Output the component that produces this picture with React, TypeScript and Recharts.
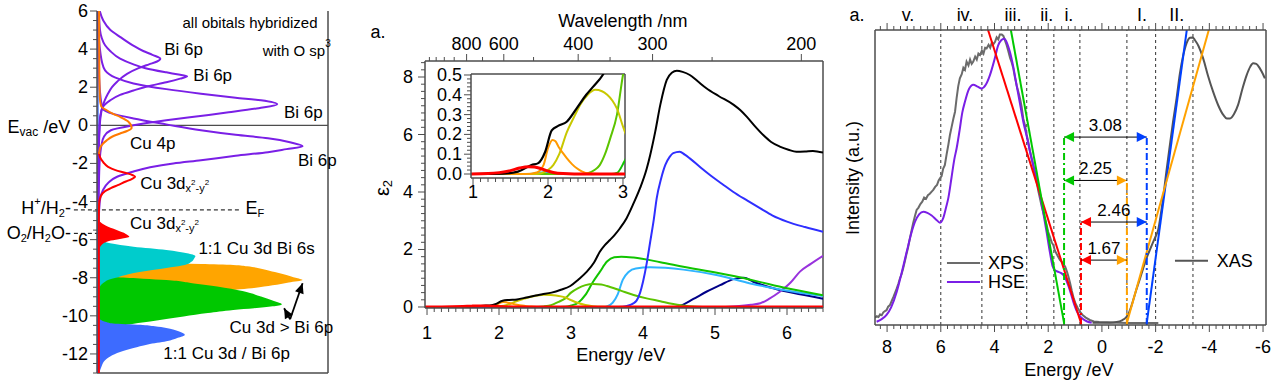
import React from "react";
import {
  ComposedChart,
  Line,
  Area,
  XAxis,
  YAxis,
  ReferenceLine,
  ReferenceDot,
} from "recharts";

const FONT = "Arial, 'Liberation Sans', Helvetica, sans-serif";
const AXIS = "#4d4d4d";

type Pt = [number, number];

function range(a: number, b: number, s: number): number[] {
  const out: number[] = [];
  for (let k = 0; a + k * s <= b + 1e-9; k++) out.push(+(a + k * s).toFixed(4));
  return out;
}

const toEV = (pts: Pt[]) => pts.map(([e, v]) => ({ e, v }));

// ---------------- left panel: orbital levels, [energy vs vacuum /eV, weight]
const p1Major = [6, 4, 2, 0, -2, -4, -6, -8, -10, -12];
const p1Ticks = range(-13, 6, 0.5);

const bi6pA: Pt[] = [[6, 1.2], [5.5, 2.7], [5, 5.8], [4.6, 10.5], [4.2, 15.5], [3.9, 20], [3.7, 24], [3.5, 27.4], [3.35, 26], [3.2, 22.5], [3.0, 18], [2.7, 13], [2.3, 8.8], [2.0, 6.5], [1.6, 4.5], [1.3, 3.3], [0.9, 2.2], [0.4, 1.5], [-0.5, 1.0], [-2, 0.7], [-4, 0.5]];
const bi6pB: Pt[] = [[6, 0.8], [5, 1.3], [4.6, 2], [4.2, 3.5], [3.9, 5.7], [3.5, 10], [3.2, 15.8], [3.0, 21], [2.78, 30], [2.65, 36], [2.57, 39], [2.45, 36], [2.26, 30], [2.05, 22], [1.83, 15.8], [1.6, 10], [1.31, 5.7], [0.96, 2.5], [0.5, 1.4], [-0.5, 0.9], [-2, 0.6], [-4, 0.5]];
const bi6pC: Pt[] = [[6, 0.6], [4.5, 0.9], [3.77, 1.5], [3.3, 2.2], [2.88, 3.5], [2.5, 8], [2.2, 15.8], [1.9, 30], [1.66, 45], [1.45, 60], [1.31, 71], [1.1, 78], [0.9, 70], [0.68, 57], [0.45, 42], [0.26, 30], [0, 15.8], [-0.26, 6], [-0.6, 3], [-1.0, 2], [-2, 1.1], [-4, 0.7]];
const bi6pD: Pt[] = [[6, 0.5], [3, 0.8], [1.5, 1.5], [0.87, 2.6], [0.6, 7], [0.36, 15.8], [0.05, 30], [-0.26, 45], [-0.5, 60], [-0.68, 74], [-0.9, 84], [-1.1, 89], [-1.25, 82], [-1.41, 74], [-1.6, 60], [-1.83, 45], [-2.0, 33], [-2.2, 23], [-2.45, 15], [-2.7, 8.7], [-3.0, 5], [-3.4, 2.6], [-4, 1.2], [-5, 0.8], [-13, 0.6]];
const cu4p: Pt[] = [[6, 0.9], [3, 1], [1.5, 1.2], [1.0, 1.8], [0.79, 4.2], [0.6, 7], [0.44, 10], [0.2, 13.5], [-0.14, 15], [-0.3, 13], [-0.43, 10], [-0.6, 6.5], [-0.79, 4.2], [-1.0, 2.3], [-1.2, 1.3], [-1.5, 0.9]];
const cu3dLine: Pt[] = [[-1.4, 0.8], [-1.67, 1.3], [-1.95, 2.8], [-2.18, 4.8], [-2.35, 8], [-2.5, 12.5], [-2.62, 15.5], [-2.7, 16.5], [-2.82, 15], [-2.95, 12.5], [-3.14, 9], [-3.3, 6], [-3.45, 3.5], [-3.75, 1.5], [-4.1, 0.9], [-5, 0.8], [-8, 0.8], [-13, 0.8]];
const cu3dFill: Pt[] = [[-4.9, 0.5], [-5.06, 1.3], [-5.25, 3.5], [-5.5, 8.5], [-5.7, 12.5], [-5.85, 14], [-5.95, 10.5], [-6.05, 6], [-6.15, 3.5], [-6.28, 2], [-6.5, 1], [-6.8, 0.5]];
const cuBi6s: Pt[] = [[-5.9, 0.5], [-6.02, 1.3], [-6.19, 5.7], [-6.37, 15.8], [-6.54, 30], [-6.72, 39], [-6.86, 42.6], [-7.0, 42], [-7.15, 41], [-7.33, 38], [-7.45, 32], [-7.6, 24], [-7.75, 16], [-7.9, 11], [-7.98, 9], [-8.08, 5.7], [-8.25, 3], [-8.46, 1.3], [-8.8, 0.5]];
const cuOverBiA: Pt[] = [[-7.0, 0.5], [-7.1, 5], [-7.2, 25], [-7.28, 45], [-7.33, 59], [-7.4, 65], [-7.55, 72], [-7.7, 77], [-7.85, 82], [-8.0, 86], [-8.12, 89], [-8.25, 83], [-8.4, 76], [-8.55, 67], [-8.7, 52], [-8.85, 35], [-9.0, 20], [-9.2, 8], [-9.5, 2], [-9.9, 0.5]];
const cuOverBiB: Pt[] = [[-7.85, 0.5], [-7.92, 4], [-7.98, 9], [-8.05, 20], [-8.12, 30], [-8.3, 42], [-8.46, 52], [-8.7, 63], [-8.99, 71], [-9.2, 76], [-9.4, 80], [-9.5, 76], [-9.6, 68], [-9.69, 59], [-9.85, 48], [-10.03, 37.5], [-10.17, 30], [-10.3, 23], [-10.47, 13], [-10.65, 6], [-10.9, 2], [-11.3, 0.5]];
const cuBi6p: Pt[] = [[-10.1, 0.5], [-10.2, 1.5], [-10.32, 4], [-10.4, 7], [-10.47, 18.7], [-10.55, 25], [-10.64, 30], [-10.8, 35], [-11.0, 38], [-11.15, 35], [-11.34, 30], [-11.5, 22], [-11.69, 15.8], [-11.9, 10], [-12.13, 5.7], [-12.4, 3], [-12.65, 2], [-13, 1]];
const baseline: Pt[] = [[6, 0.4], [-13, 0.4]];
const arrowToA: Pt[] = [[-10.18, 83.6], [-8.29, 89]];
const arrowToB: Pt[] = [[-10.18, 83.6], [-9.6, 81]];
const levelEF = -4.44;
const levelO2 = -5.67;

// ---------------- middle panel: epsilon_2 decomposition, [energy /eV, eps2]
const p2XMajor = [1, 2, 3, 4, 5, 6];
const p2XTicks = range(1, 6.5, 0.1);
const p2YMajor = [0, 2, 4, 6, 8];
const p2YTicks = range(0, 8.5, 0.25);
const wlMajor = [800, 600, 400, 300, 200];
const wlMinor = [1200, 1100, 1000, 900, 700, 500, 350, 250];
const insetYMajor = [0, 0.1, 0.2, 0.3, 0.4, 0.5];
const insetYTicks = range(0, 0.5, 0.02);
const insetXMajor = [1, 2, 3];
const insetXTicks = range(1, 3, 0.1);

const epsTotal: Pt[] = [[0.97, 0], [1.4, 0.002], [1.6, 0.012], [1.78, 0.045], [1.87, 0.055], [1.96, 0.11], [2.05, 0.22], [2.14, 0.244], [2.25, 0.264], [2.38, 0.33], [2.51, 0.4], [2.6, 0.44], [2.73, 0.5], [2.86, 0.6], [2.99, 0.73], [3.1, 0.95], [3.22, 1.23], [3.32, 1.55], [3.4, 1.92], [3.47, 2.15], [3.54, 2.33], [3.61, 2.52], [3.68, 2.74], [3.77, 3.08], [3.87, 3.61], [3.96, 4.14], [4.05, 4.8], [4.1, 5.29], [4.17, 6.1], [4.24, 7.03], [4.33, 7.9], [4.4, 8.15], [4.47, 8.22], [4.55, 8.18], [4.65, 8.07], [4.76, 7.85], [4.88, 7.61], [5.05, 7.34], [5.26, 7.03], [5.35, 6.85], [5.44, 6.62], [5.55, 6.3], [5.67, 5.98], [5.78, 5.74], [5.9, 5.58], [6.02, 5.47], [6.13, 5.4], [6.25, 5.41], [6.36, 5.43], [6.5, 5.37]];
const epsBlue: Pt[] = [[0.97, 0], [3.6, 0], [3.72, 0.01], [3.8, 0.05], [3.86, 0.12], [3.91, 0.22], [3.96, 0.5], [4.0, 0.88], [4.05, 1.5], [4.1, 2.27], [4.15, 3.05], [4.19, 3.78], [4.25, 4.45], [4.31, 4.94], [4.37, 5.22], [4.42, 5.35], [4.51, 5.4], [4.58, 5.3], [4.65, 5.17], [4.8, 4.85], [4.93, 4.59], [5.1, 4.28], [5.25, 4.01], [5.45, 3.7], [5.63, 3.43], [5.8, 3.18], [6.0, 2.97], [6.25, 2.78], [6.5, 2.62]];
const epsSky: Pt[] = [[0.97, 0], [1.75, 0], [1.95, 0.009], [2.15, 0.002], [2.3, 0], [3.45, 0], [3.5, 0.02], [3.58, 0.15], [3.65, 0.45], [3.72, 0.95], [3.8, 1.22], [3.9, 1.34], [4.1, 1.38], [4.56, 1.3], [5.02, 1.11], [5.49, 0.82], [5.95, 0.59], [6.5, 0.38]];
const epsGreen: Pt[] = [[0.97, 0], [2.85, 0], [2.92, 0.005], [3.0, 0.05], [3.1, 0.15], [3.2, 0.42], [3.3, 0.85], [3.4, 1.22], [3.5, 1.58], [3.6, 1.73], [3.7, 1.75], [3.87, 1.72], [4.24, 1.56], [4.56, 1.4], [5.26, 1.08], [5.95, 0.68], [6.5, 0.41]];
const epsLime: Pt[] = [[0.97, 0], [2.4, 0], [2.52, 0.003], [2.62, 0.02], [2.69, 0.045], [2.76, 0.1], [2.83, 0.18], [2.92, 0.3], [3.0, 0.5], [3.1, 0.66], [3.2, 0.76], [3.31, 0.8], [3.42, 0.78], [3.5, 0.73], [3.7, 0.56], [3.87, 0.42], [4.05, 0.3], [4.24, 0.2], [4.4, 0.11], [4.55, 0.05], [4.75, 0.01], [4.9, 0], [6.5, 0]];
const epsOlive: Pt[] = [[0.97, 0], [1.8, 0], [1.9, 0.003], [2.0, 0.02], [2.07, 0.045], [2.15, 0.1], [2.25, 0.21], [2.35, 0.29], [2.43, 0.35], [2.53, 0.4], [2.63, 0.425], [2.72, 0.418], [2.79, 0.4], [2.86, 0.37], [2.92, 0.33], [3.0, 0.24], [3.1, 0.14], [3.2, 0.07], [3.3, 0.03], [3.45, 0.005], [3.6, 0], [6.5, 0]];
const epsOrange: Pt[] = [[0.97, 0], [1.7, 0], [1.85, 0.008], [1.94, 0.045], [2.0, 0.13], [2.06, 0.172], [2.1, 0.165], [2.14, 0.138], [2.2, 0.105], [2.25, 0.08], [2.32, 0.05], [2.38, 0.03], [2.45, 0.013], [2.55, 0.002], [2.7, 0], [6.5, 0]];
const epsRed: Pt[] = [[0.97, 0], [1.2, 0.002], [1.35, 0.007], [1.5, 0.017], [1.62, 0.03], [1.74, 0.037], [1.82, 0.035], [1.89, 0.029], [1.97, 0.018], [2.07, 0.008], [2.2, 0.002], [2.35, 0], [6.5, 0]];
const epsNavy: Pt[] = [[0.97, 0], [4.4, 0], [4.5, 0.03], [4.7, 0.28], [4.88, 0.53], [5.07, 0.76], [5.26, 0.97], [5.4, 1.02], [5.53, 0.88], [5.81, 0.65], [6.18, 0.44], [6.5, 0.29]];
const epsViolet: Pt[] = [[0.97, 0], [5.0, 0], [5.3, 0.03], [5.5, 0.08], [5.63, 0.13], [5.75, 0.28], [5.9, 0.53], [6.05, 0.85], [6.18, 1.23], [6.33, 1.5], [6.5, 1.78]];

// ---------------- right panel: XPS / HSE / XAS, [energy /eV, intensity]
const p3Major = [8, 6, 4, 2, 0, -2, -4, -6];
const p3Ticks = range(-6, 8.25, 0.25);
const xps: Pt[] = [[8.45, 0.025], [8.38, 0.03], [8.32, 0.027], [8.26, 0.036], [8.2, 0.033], [8.14, 0.043], [8.08, 0.047], [8.02, 0.05], [7.96, 0.062], [7.89, 0.068], [7.82, 0.083], [7.76, 0.096], [7.7, 0.11], [7.64, 0.124], [7.58, 0.14], [7.52, 0.158], [7.46, 0.172], [7.4, 0.192], [7.34, 0.215], [7.28, 0.24], [7.22, 0.262], [7.15, 0.294], [7.09, 0.32], [7.03, 0.345], [6.96, 0.37], [6.9, 0.39], [6.83, 0.398], [6.76, 0.41], [6.69, 0.418], [6.62, 0.432], [6.55, 0.428], [6.48, 0.44], [6.41, 0.445], [6.34, 0.452], [6.28, 0.458], [6.21, 0.468], [6.14, 0.475], [6.08, 0.49], [6.03, 0.497], [5.97, 0.505], [5.91, 0.53], [5.85, 0.542], [5.78, 0.58], [5.72, 0.61], [5.66, 0.644], [5.6, 0.67], [5.53, 0.7], [5.47, 0.723], [5.41, 0.77], [5.35, 0.81], [5.29, 0.836], [5.22, 0.85], [5.16, 0.872], [5.1, 0.865], [5.04, 0.893], [4.97, 0.88], [4.91, 0.9], [4.85, 0.885], [4.79, 0.893], [4.72, 0.91], [4.66, 0.9], [4.6, 0.92], [4.54, 0.915], [4.47, 0.93], [4.41, 0.92], [4.35, 0.94], [4.29, 0.938], [4.22, 0.95], [4.16, 0.94], [4.1, 0.958], [4.04, 0.952], [3.98, 0.96], [3.92, 0.975], [3.86, 0.968], [3.8, 0.985], [3.73, 0.985], [3.67, 0.98], [3.61, 0.965], [3.55, 0.949], [3.49, 0.93], [3.42, 0.905], [3.36, 0.89], [3.3, 0.87], [3.24, 0.84], [3.17, 0.81], [3.11, 0.79], [3.05, 0.768], [2.99, 0.74], [2.93, 0.7], [2.86, 0.675], [2.8, 0.644], [2.74, 0.62], [2.68, 0.59], [2.62, 0.565], [2.56, 0.542], [2.49, 0.51], [2.43, 0.485], [2.37, 0.455], [2.31, 0.43], [2.25, 0.405], [2.18, 0.38], [2.12, 0.36], [2.06, 0.339], [2.0, 0.315], [1.94, 0.3], [1.87, 0.28], [1.81, 0.271], [1.75, 0.252], [1.68, 0.24], [1.62, 0.23], [1.56, 0.22], [1.5, 0.215], [1.43, 0.205], [1.37, 0.198], [1.3, 0.18], [1.25, 0.165], [1.18, 0.14], [1.12, 0.115], [1.05, 0.09], [0.98, 0.072], [0.9, 0.058], [0.82, 0.045], [0.72, 0.034], [0.6, 0.025], [0.45, 0.017], [0.3, 0.012], [0.1, 0.01], [-0.2, 0.009], [-0.6, 0.008], [-1.0, 0.007], [-1.5, 0.007], [-2.1, 0.007]];
const hse: Pt[] = [[8.39, 0.011], [8.2, 0.02], [8.02, 0.034], [7.85, 0.06], [7.64, 0.113], [7.45, 0.18], [7.27, 0.248], [7.1, 0.31], [6.96, 0.35], [6.8, 0.376], [6.65, 0.384], [6.5, 0.38], [6.34, 0.371], [6.18, 0.358], [6.03, 0.347], [5.9, 0.365], [5.8, 0.4], [5.72, 0.43], [5.6, 0.5], [5.5, 0.56], [5.41, 0.599], [5.3, 0.66], [5.2, 0.72], [5.1, 0.757], [4.95, 0.8], [4.79, 0.814], [4.63, 0.808], [4.48, 0.802], [4.32, 0.815], [4.17, 0.847], [4.0, 0.9], [3.86, 0.949], [3.75, 0.965], [3.64, 0.97], [3.53, 0.955], [3.43, 0.927], [3.3, 0.875], [3.18, 0.814], [3.05, 0.75], [2.93, 0.69], [2.8, 0.64], [2.68, 0.588], [2.55, 0.54], [2.43, 0.497], [2.3, 0.44], [2.19, 0.384], [2.06, 0.315], [1.94, 0.248], [1.84, 0.2], [1.75, 0.186], [1.62, 0.18], [1.5, 0.175], [1.4, 0.165], [1.3, 0.145], [1.2, 0.12], [1.07, 0.08], [0.95, 0.05], [0.82, 0.03], [0.7, 0.02], [0.55, 0.012], [0.38, 0.008]];
const xas: Pt[] = [[0.35, 0.008], [0, 0.008], [-0.3, 0.008], [-0.55, 0.01], [-0.75, 0.016], [-0.9, 0.026], [-1.0, 0.04], [-1.1, 0.065], [-1.2, 0.095], [-1.3, 0.125], [-1.41, 0.155], [-1.53, 0.19], [-1.66, 0.226], [-1.8, 0.258], [-1.91, 0.282], [-2.0, 0.3], [-2.1, 0.325], [-2.2, 0.38], [-2.28, 0.43], [-2.4, 0.52], [-2.53, 0.61], [-2.65, 0.69], [-2.78, 0.768], [-2.9, 0.85], [-3.03, 0.915], [-3.15, 0.955], [-3.28, 0.974], [-3.38, 0.975], [-3.46, 0.966], [-3.6, 0.945], [-3.77, 0.904], [-3.95, 0.845], [-4.14, 0.791], [-4.33, 0.745], [-4.52, 0.712], [-4.65, 0.7], [-4.77, 0.7], [-4.92, 0.715], [-5.07, 0.746], [-5.23, 0.8], [-5.39, 0.847], [-5.52, 0.875], [-5.63, 0.887], [-5.75, 0.885], [-5.88, 0.87], [-6.0, 0.85], [-6.07, 0.836]];
const tangentRed: Pt[] = [[4.24, 1.0], [0.78, 0.007]];
const tangentGreen: Pt[] = [[3.39, 1.0], [1.41, 0.007]];
const tangentBlue: Pt[] = [[-3.16, 1.0], [-1.67, 0.007]];
const tangentOrange: Pt[] = [[-3.98, 1.0], [-0.93, 0.007]];
const markers = [6.0, 4.47, 2.8, 1.79, 0.82, -0.93, -2.0, -3.39];
const romans: [string, number][] = [["v.", 7.22], ["iv.", 5.1], ["iii.", 3.31], ["ii.", 2.05], ["i.", 1.23], ["I.", -1.49], ["II.", -2.79]];
const edges: Record<string, { e: number; top: number }> = {
  green: { e: 1.41, top: 0.644 },
  red: { e: 0.78, top: 0.349 },
  orange: { e: -0.93, top: 0.49 },
  blue: { e: -1.67, top: 0.637 },
};
const gaps = [
  { from: "green", to: "blue", level: 0.637, text: "3.08" },
  { from: "green", to: "orange", level: 0.49, text: "2.25" },
  { from: "red", to: "blue", level: 0.349, text: "2.46" },
  { from: "red", to: "orange", level: 0.22, text: "1.67" },
];

const EDGE_COLOR: Record<string, string> = {
  green: "#00c800",
  red: "#ff0000",
  orange: "#ffa200",
  blue: "#0040ff",
};

// ---------------- helpers
type Side = "left" | "bottom" | "top";

function makeTick(
  side: Side,
  majors: number[],
  off: number,
  opts: { fmt?: (v: number) => string; labels?: boolean; size?: number } = {}
) {
  const fmt = opts.fmt ?? ((v: number) => String(v));
  const size = opts.size ?? 18;
  return (props: any) => {
    const { x, y, payload } = props;
    const v = payload.value;
    const major = majors.some((m) => Math.abs(m - v) < 1e-6);
    const len = major ? 7 : 4;
    const label = opts.labels !== false && major ? fmt(v) : null;
    const t = { fontSize: size, fontFamily: FONT, fill: "#000" };
    if (side === "left") {
      return (
        <g>
          <line x1={x} y1={y} x2={x - len} y2={y} stroke={AXIS} />
          {label && (
            <text x={x - off} y={y} textAnchor="end" dominantBaseline="central" {...t}>
              {label}
            </text>
          )}
        </g>
      );
    }
    const dir = side === "bottom" ? 1 : -1;
    return (
      <g>
        <line x1={x} y1={y} x2={x} y2={y + dir * len} stroke={AXIS} />
        {label && (
          <text x={x} y={y + dir * off} textAnchor="middle" dominantBaseline="central" {...t}>
            {label}
          </text>
        )}
      </g>
    );
  };
}

type NoteOpts = {
  size?: number;
  anchor?: "start" | "middle" | "end";
  rotate?: number;
  xAxisId?: string | number;
};

function note(key: string, x: number, y: number, content: React.ReactNode, o: NoteOpts = {}) {
  const size = o.size ?? 17;
  return (
    <ReferenceDot
      key={key}
      x={x}
      y={y}
      r={0}
      xAxisId={o.xAxisId ?? 0}
      ifOverflow="visible"
      stroke="none"
      fill="none"
      label={(p: any) => {
        const vb = p.viewBox || {};
        const cx = (vb.x ?? 0) + (vb.width ?? 0) / 2;
        const cy = (vb.y ?? 0) + (vb.height ?? 0) / 2;
        return (
          <text
            x={cx}
            y={cy}
            fontSize={size}
            fontFamily={FONT}
            fill="#000"
            textAnchor={o.anchor ?? "start"}
            dominantBaseline="central"
            transform={o.rotate ? `rotate(${o.rotate} ${cx} ${cy})` : undefined}
          >
            {content}
          </text>
        );
      }}
    />
  );
}

const dx2y2 = (
  <>
    Cu 3d
    <tspan dy={5} fontSize={11}>x</tspan>
    <tspan dy={-6} fontSize={8}>2</tspan>
    <tspan dy={6} fontSize={11}>-y</tspan>
    <tspan dy={-6} fontSize={8}>2</tspan>
  </>
);

// ---------------- panels
function OrbitalPanel() {
  const line = (key: string, pts: Pt[], color: string, w = 2) => (
    <Line key={key} data={toEV(pts)} dataKey="v" type="monotone" stroke={color} strokeWidth={w}
      dot={false} activeDot={false} isAnimationActive={false} />
  );
  const area = (key: string, pts: Pt[], color: string) => (
    <Area key={key} data={toEV(pts)} dataKey="v" type="monotone" stroke="none" fill={color}
      fillOpacity={1} dot={false} activeDot={false} isAnimationActive={false} />
  );
  const slantHead = (p: any) => {
    const { cx, cy, index, points } = p;
    if (index !== 1 || !points || !points[0]) return <g key={`sh-${index}`} />;
    const a = Math.atan2(cy - points[0].y, cx - points[0].x);
    const L = 10, W = 4.5;
    const bx = cx - L * Math.cos(a), by = cy - L * Math.sin(a);
    const nx = -Math.sin(a) * W, ny = Math.cos(a) * W;
    return <polygon key={`sh-${index}`} points={`${cx},${cy} ${bx + nx},${by + ny} ${bx - nx},${by - ny}`} fill="#000" />;
  };
  return (
    <ComposedChart layout="vertical" width={338} height={384} margin={{ top: 11, right: 10, bottom: 11, left: 0 }}>
      <XAxis type="number" domain={[0, 100]} hide allowDataOverflow />
      <YAxis type="number" dataKey="e" domain={[-13, 6]} reversed allowDataOverflow ticks={p1Ticks} interval={0}
        width={97} tickLine={false} tickSize={0} tickMargin={0}
        axisLine={{ stroke: AXIS, strokeWidth: 1.5 }} tick={makeTick("left", p1Major, 9)} />
      <ReferenceLine x={100} stroke={AXIS} strokeWidth={1.5} ifOverflow="visible" />
      <ReferenceLine y={-13} stroke={AXIS} strokeWidth={1.5} ifOverflow="visible" />
      <ReferenceLine y={0} stroke={AXIS} strokeWidth={1.2} />
      <ReferenceLine segment={[{ x: -10, y: levelEF }, { x: 62, y: levelEF }]} stroke="#000" strokeDasharray="4 3" ifOverflow="visible" />
      <ReferenceLine segment={[{ x: -10, y: levelO2 }, { x: 0, y: levelO2 }]} stroke="#000" strokeDasharray="4 3" ifOverflow="visible" />
      {area("a-orange", cuOverBiA, "#ffa500")}
      {area("a-green", cuOverBiB, "#00c800")}
      {area("a-blue", cuBi6p, "#3d6bff")}
      {area("a-cyan", cuBi6s, "#00cccc")}
      {area("a-red", cu3dFill, "#ff0000")}
      {line("base", baseline, "#3d6bff", 1.5)}
      {line("bi-d", bi6pD, "#7a1fe6")}
      {line("bi-c", bi6pC, "#7a1fe6")}
      {line("bi-b", bi6pB, "#7a1fe6")}
      {line("bi-a", bi6pA, "#7a1fe6")}
      {line("cu3d", cu3dLine, "#ff0000")}
      {line("cu4p", cu4p, "#ff7a00")}
      <Line data={toEV(arrowToA)} dataKey="v" type="linear" stroke="#000" strokeWidth={1.8} dot={slantHead} activeDot={false} isAnimationActive={false} />
      <Line data={toEV(arrowToB)} dataKey="v" type="linear" stroke="#000" strokeWidth={1.8} dot={slantHead} activeDot={false} isAnimationActive={false} />
      {note("n1", 37, 5.39, "all obitals hybridized", { size: 15 })}
      {note("n2", 71.7, 3.93, <>with O sp<tspan dy={-7} fontSize={10}>3</tspan></>, { size: 15 })}
      {note("n3", 29.1, 3.98, "Bi 6p")}
      {note("n4", 41.7, 2.62, "Bi 6p")}
      {note("n5", 80.9, 0.68, "Bi 6p")}
      {note("n6", 87, -1.83, "Bi 6p")}
      {note("n7", 14.3, -0.94, "Cu 4p")}
      {note("n8", 18.7, -3.04, dx2y2)}
      {note("n9", 14.3, -5.13, dx2y2)}
      {note("n10", 43.9, -6.44, "1:1 Cu 3d Bi 6s")}
      {note("n11", 57.4, -10.63, "Cu 3d > Bi 6p")}
      {note("n12", 28.7, -11.99, "1:1 Cu 3d / Bi 6p")}
      {note("n13", 64.3, -4.35, <>E<tspan dy={5} fontSize={11}>F</tspan></>, { size: 18 })}
      {note("n14", -38.7, -0.1, <>E<tspan dy={5} fontSize={12}>vac</tspan><tspan dy={-5}> /eV</tspan></>, { size: 18 })}
      {note("n15", -11.3, -4.35, <>H<tspan dy={-7} fontSize={11}>+</tspan><tspan dy={7}>/H</tspan><tspan dy={5} fontSize={11}>2</tspan><tspan dy={-5}>-</tspan></>, { size: 18, anchor: "end" })}
      {note("n16", -11.3, -5.65, <>O<tspan dy={5} fontSize={11}>2</tspan><tspan dy={-5}>/H</tspan><tspan dy={5} fontSize={11}>2</tspan><tspan dy={-5}>O-</tspan></>, { size: 18, anchor: "end" })}
    </ComposedChart>
  );
}

function Eps2Panel() {
  const line = (key: string, pts: Pt[], color: string, w = 2) => (
    <Line key={key} xAxisId="b" data={toEV(pts)} dataKey="v" type="monotone" stroke={color} strokeWidth={w}
      dot={false} activeDot={false} isAnimationActive={false} />
  );
  const wlTicks = [...wlMinor, ...wlMajor].map((w) => 1239.84 / w);
  const wlMajorE = wlMajor.map((w) => 1239.84 / w);
  const dom: [number, number] = [0.972, 6.5];
  return (
    <ComposedChart width={490} height={384} margin={{ top: 0, right: 7, bottom: 0, left: 0 }}>
      <XAxis xAxisId="b" type="number" dataKey="e" domain={dom} allowDataOverflow ticks={p2XTicks} interval={0}
        height={76} tickLine={false} tickSize={0} tickMargin={0}
        axisLine={{ stroke: AXIS, strokeWidth: 1.5 }} tick={makeTick("bottom", p2XMajor, 25)} />
      <XAxis xAxisId="t" orientation="top" type="number" dataKey="e" domain={dom} allowDataOverflow ticks={wlTicks} interval={0}
        height={61} tickLine={false} tickSize={0} tickMargin={0}
        axisLine={{ stroke: AXIS, strokeWidth: 1.5 }}
        tick={makeTick("top", wlMajorE, 17, { fmt: (v) => String(Math.round(1239.84 / v)) })} />
      <YAxis type="number" domain={[-0.035, 8.557]} allowDataOverflow ticks={p2YTicks} interval={0}
        width={85} tickLine={false} tickSize={0} tickMargin={0}
        axisLine={{ stroke: AXIS, strokeWidth: 1.5 }} tick={makeTick("left", p2YMajor, 12)} />
      <ReferenceLine xAxisId="b" x={6.5} stroke={AXIS} strokeWidth={1.5} ifOverflow="visible" />
      {line("navy", epsNavy, "#000088")}
      {line("violet", epsViolet, "#9933dd")}
      {line("sky", epsSky, "#2fb4ff")}
      {line("green", epsGreen, "#11c400")}
      {line("lime", epsLime, "#5cc400")}
      {line("olive", epsOlive, "#c8c800")}
      {line("orange", epsOrange, "#ff9900")}
      {line("blue", epsBlue, "#2f2fff")}
      {line("total", epsTotal, "#000000")}
      {line("red", epsRed, "#ff0000", 3)}
      {note("a", 0.32, 9.57, "a.", { xAxisId: "b", anchor: "middle", size: 18 })}
      {note("wl", 3.72, 9.95, "Wavelength /nm", { xAxisId: "b", anchor: "middle", size: 18 })}
      {note("en", 3.69, -1.67, "Energy /eV", { xAxisId: "b", anchor: "middle", size: 18 })}
      {note("eps", 0.375, 4.14, <>ε<tspan dy={5} fontSize={13}>2</tspan></>, { xAxisId: "b", anchor: "middle", size: 20, rotate: -90 })}
    </ComposedChart>
  );
}

function InsetPanel() {
  const line = (key: string, pts: Pt[], color: string, w = 2) => (
    <Line key={key} data={toEV(pts)} dataKey="v" type="monotone" stroke={color} strokeWidth={w}
      dot={false} activeDot={false} isAnimationActive={false} />
  );
  return (
    <ComposedChart width={200} height={152} margin={{ top: 14, right: 5, bottom: 12, left: 0 }}>
      <XAxis type="number" dataKey="e" domain={[0.973, 3.027]} allowDataOverflow ticks={insetXTicks} interval={0}
        height={22} tickLine={false} tickSize={0} tickMargin={0}
        axisLine={{ stroke: AXIS, strokeWidth: 1.5 }} tick={makeTick("bottom", insetXMajor, 14)} />
      <YAxis type="number" domain={[-0.0202, 0.505]} allowDataOverflow ticks={insetYTicks} interval={0}
        width={41} tickLine={false} tickSize={0} tickMargin={0}
        axisLine={{ stroke: AXIS, strokeWidth: 1.5 }}
        tick={makeTick("left", insetYMajor, 9, { fmt: (v) => v.toFixed(1) })} />
      <ReferenceLine x={3.027} stroke={AXIS} strokeWidth={1.5} ifOverflow="visible" />
      <ReferenceLine y={0.505} stroke={AXIS} strokeWidth={1.5} ifOverflow="visible" />
      {line("sky", epsSky, "#2fb4ff")}
      {line("green", epsGreen, "#11c400")}
      {line("lime", epsLime, "#5cc400")}
      {line("olive", epsOlive, "#c8c800")}
      {line("orange", epsOrange, "#ff9900")}
      {line("total", epsTotal, "#000000", 2.2)}
      {line("red", epsRed, "#ff0000", 3)}
    </ComposedChart>
  );
}

function SpectraPanel() {
  const line = (key: string, pts: Pt[], color: string, w = 2, type: any = "monotone") => (
    <Line key={key} xAxisId="b" data={toEV(pts)} dataKey="v" type={type} stroke={color} strokeWidth={w}
      dot={false} activeDot={false} isAnimationActive={false} />
  );
  const head = (colA: string, colB: string) => (p: any) => {
    const { cx, cy, index } = p;
    const dir = index === 0 ? -1 : 1;
    const L = 10, W = 5;
    return (
      <polygon key={`h-${index}`} points={`${cx},${cy} ${cx - dir * L},${cy - W} ${cx - dir * L},${cy + W}`}
        fill={index === 0 ? colA : colB} />
    );
  };
  const dom: [number, number] = [-6.11, 8.45];
  return (
    <ComposedChart width={439} height={384} margin={{ top: 0, right: 8, bottom: 0, left: 0 }}>
      <XAxis xAxisId="b" type="number" dataKey="e" domain={dom} reversed allowDataOverflow ticks={p3Ticks} interval={0}
        height={59} tickLine={false} tickSize={0} tickMargin={0}
        axisLine={{ stroke: AXIS, strokeWidth: 1.5 }} tick={makeTick("bottom", p3Major, 22)} />
      <XAxis xAxisId="t" orientation="top" type="number" dataKey="e" domain={dom} reversed allowDataOverflow ticks={p3Ticks} interval={0}
        height={30} tickLine={false} tickSize={0} tickMargin={0}
        axisLine={{ stroke: AXIS, strokeWidth: 1.5 }} tick={makeTick("top", p3Major, 0, { labels: false })} />
      <YAxis type="number" domain={[0, 1]} allowDataOverflow width={40} tick={false} tickLine={false}
        axisLine={{ stroke: AXIS, strokeWidth: 1.5 }} />
      <ReferenceLine xAxisId="b" x={-6.11} stroke={AXIS} strokeWidth={1.5} ifOverflow="visible" />
      {markers.map((m) => (
        <ReferenceLine key={`m${m}`} xAxisId="b" x={m} stroke="#333" strokeDasharray="3 3" strokeWidth={1} />
      ))}
      {line("xps", xps, "#6b6b6b", 2, "linear")}
      {line("xas", xas, "#555555", 2)}
      {line("hse", hse, "#7a1fe6", 2)}
      {line("tr", tangentRed, EDGE_COLOR.red, 2, "linear")}
      {line("tg", tangentGreen, EDGE_COLOR.green, 2, "linear")}
      {line("tb", tangentBlue, EDGE_COLOR.blue, 2, "linear")}
      {line("to", tangentOrange, EDGE_COLOR.orange, 2, "linear")}
      {Object.keys(edges).map((k) => (
        <ReferenceLine key={`edge-${k}`} xAxisId="b" segment={[{ x: edges[k].e, y: 0 }, { x: edges[k].e, y: edges[k].top }]}
          stroke={EDGE_COLOR[k]} strokeWidth={2} strokeDasharray="7 3 2 3" />
      ))}
      {gaps.map((g) => (
        <Line key={`gap-${g.text}`} xAxisId="b"
          data={[{ e: edges[g.from].e, v: g.level }, { e: edges[g.to].e, v: g.level }]}
          dataKey="v" type="linear" stroke="#000" strokeWidth={1}
          dot={head(EDGE_COLOR[g.from], EDGE_COLOR[g.to])} activeDot={false} isAnimationActive={false} />
      ))}
      {gaps.map((g) =>
        note(`gt-${g.text}`, (edges[g.from].e + edges[g.to].e) / 2, g.level + 0.04, g.text, { xAxisId: "b", anchor: "middle", size: 17 })
      )}
      <ReferenceLine xAxisId="b" segment={[{ x: 5.77, y: 0.21 }, { x: 4.54, y: 0.21 }]} stroke="#6b6b6b" strokeWidth={2} />
      <ReferenceLine xAxisId="b" segment={[{ x: 5.77, y: 0.146 }, { x: 4.54, y: 0.146 }]} stroke="#7a1fe6" strokeWidth={2} />
      <ReferenceLine xAxisId="b" segment={[{ x: -2.72, y: 0.218 }, { x: -3.95, y: 0.218 }]} stroke="#555555" strokeWidth={2} />
      {note("lx", 4.24, 0.21, "XPS", { xAxisId: "b", size: 18 })}
      {note("lh", 4.24, 0.146, "HSE", { xAxisId: "b", size: 18 })}
      {note("la", -4.28, 0.218, "XAS", { xAxisId: "b", size: 18 })}
      {romans.map(([t, e]) => note(`r-${t}`, e, 1.05, t, { xAxisId: "b", anchor: "middle", size: 18 }))}
      {note("a", 9.12, 1.05, "a.", { xAxisId: "b", anchor: "middle", size: 18 })}
      {note("yl", 9.27, 0.498, "Intensity (a.u.)", { xAxisId: "b", anchor: "middle", size: 18, rotate: -90 })}
      {note("xl", 1.23, -0.153, "Energy /eV", { xAxisId: "b", anchor: "middle", size: 18 })}
    </ComposedChart>
  );
}

export default function App() {
  return (
    <div style={{ position: "absolute", left: 0, top: 0, width: 1274, height: 384, background: "#fff", fontFamily: FONT }}>
      <div style={{ position: "absolute", left: 0, top: 0 }}>
        <OrbitalPanel />
      </div>
      <div style={{ position: "absolute", left: 340, top: 0 }}>
        <Eps2Panel />
      </div>
      <div style={{ position: "absolute", left: 430, top: 60 }}>
        <InsetPanel />
      </div>
      <div style={{ position: "absolute", left: 835, top: 0 }}>
        <SpectraPanel />
      </div>
    </div>
  );
}
